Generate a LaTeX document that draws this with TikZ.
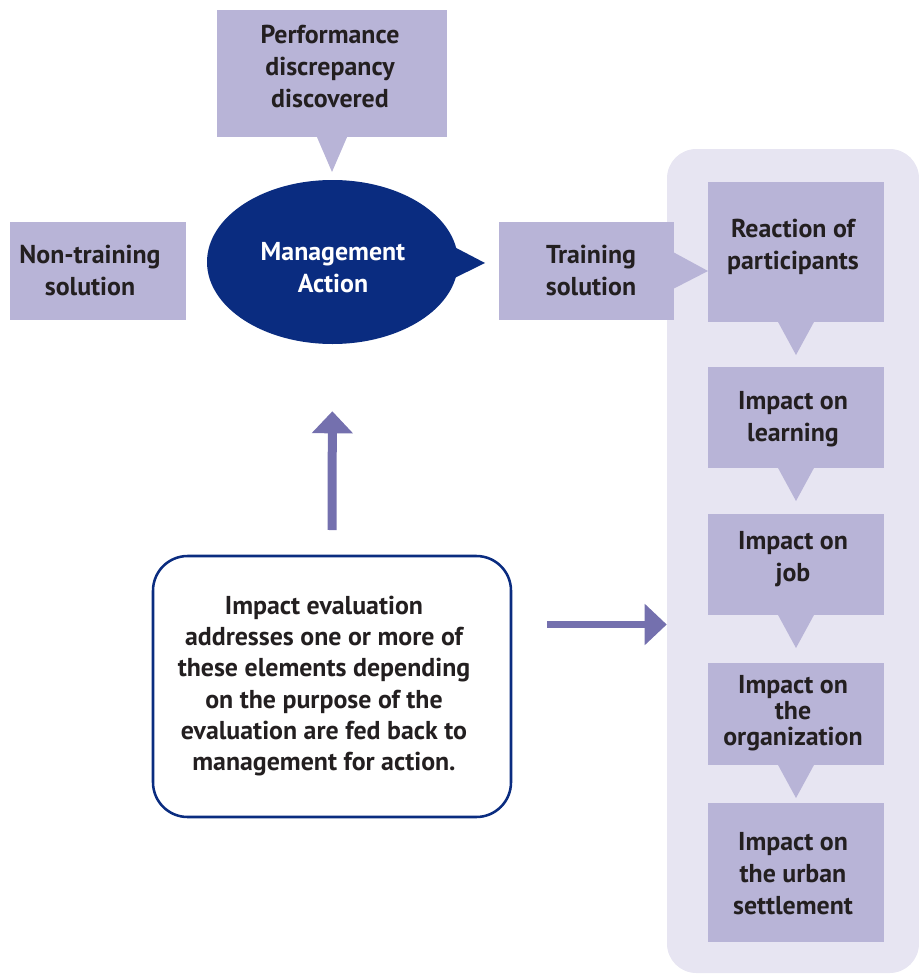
\documentclass[tikz,border=0pt]{standalone}
\usepackage{fontspec}
\setmainfont{PT Sans}
\usetikzlibrary{shapes.geometric,arrows.meta}
\definecolor{lav}{HTML}{B8B4D7}
\definecolor{panelc}{HTML}{E7E5F2}
\definecolor{navy}{HTML}{0A2C80}
\definecolor{arrowc}{HTML}{7470AE}
\definecolor{textc}{HTML}{231F20}
\tikzset{
  box/.style={rectangle, fill=lav, inner sep=0pt, outer sep=0pt},
  txt/.style={font=\bfseries\fontsize{19.4}{24}\selectfont, align=center, text=textc, inner sep=0pt},
  wtxt/.style={txt, text=white},
  bigarrow/.style={draw=arrowc, line width=6.75pt, -{Triangle[width=30pt,length=16.5pt]}},
  sidearrow/.style={draw=arrowc, line width=5.25pt, -{Triangle[width=30pt,length=16.5pt]}}
}
\begin{document}
\begin{tikzpicture}[x=0.75pt,y=-0.75pt]
\useasboundingbox (0,0) rectangle (919,974);
% background panel
\node[rectangle, fill=panelc, rounded corners=22pt, minimum width=189pt, minimum height=618pt, inner sep=0pt] (panel) at (793,561) {};
% top box
\node[box, minimum width=172.5pt, minimum height=95.25pt] (perf) at (332,73.5) {};
\fill[lav] (perf.south) ++(-15.5,-1) -- ++(15.5,36) -- ++(15.5,-36) -- cycle;
\node[txt] (perft) at (330,66.5) {Performance\\discrepancy\\discovered};
% ellipse
\node[ellipse, fill=navy, minimum width=188.25pt, minimum height=123pt, inner sep=0pt] (mgmt) at (332.5,262) {};
\fill[navy] (mgmt.center) ++(118,-17) -- ++(34.5,18) -- ++(-34.5,17) -- cycle;
\node[wtxt] (mgmtt) at (333,267.5) {Management\\Action};
% side boxes
\node[box, minimum width=132pt, minimum height=73.5pt] (nontr) at (98,271) {};
\node[txt] (nontrt) at (90,270) {Non-training\\solution};
\node[box, minimum width=131.25pt, minimum height=73.5pt] (train) at (586.5,271) {};
\fill[lav] (train.east) ++(-1,-19) -- ++(35,19) -- ++(-35,18) -- cycle;
\node[txt] (traint) at (591,270) {Training\\solution};
% right column
\node[box, minimum width=132pt, minimum height=105pt] (r1) at (796,252) {};
\node[box, minimum width=132pt, minimum height=75.75pt] (r2) at (796,417.5) {};
\node[box, minimum width=132pt, minimum height=75.75pt] (r3) at (796,564.5) {};
\node[box, minimum width=132pt, minimum height=76.5pt] (r4) at (796,714) {};
\node[box, minimum width=132pt, minimum height=104.25pt] (r5) at (796,872.5) {};
\foreach \r in {r1,r2,r3,r4}{
  \fill[lav] (\r.south) ++(-18.5,-1) -- ++(18.5,34) -- ++(18.5,-34) -- cycle;
}
\node[txt] (r1t) at (793,246.5) {Reaction of\\participants};
\node[txt] (r2t) at (793,419) {Impact on\\learning};
\node[txt] (r3t) at (793,559) {Impact on\\job};
\node[txt, font=\bfseries\fontsize{19.4}{19.5}\selectfont] (r4t) at (793,713) {Impact on\\the\\organization};
\node[txt] (r5t) at (793,874) {Impact on\\the urban\\settlement};
% evaluation box
\node[rectangle, draw=navy, line width=1.9pt, fill=white, rounded corners=26pt, minimum width=268.5pt, minimum height=195.75pt, inner sep=0pt, outer sep=0pt] (eval) at (332,686.5) {};
\node[txt, font=\bfseries\fontsize{19.4}{23.4}\selectfont] (evalt) at (324,686) {Impact evaluation\\addresses one or more of\\these elements depending\\on the purpose of the\\evaluation are fed back to\\management for action.};
% arrows
\draw[bigarrow, shorten <=19.5pt, shorten >=50.25pt] (eval.north) -- (mgmt.south);
\coordinate (ra1) at (547,624.5);
\coordinate (ra2) at (panel.west |- ra1);
\draw[sidearrow] (ra1) -- (ra2);
\end{tikzpicture}
\end{document}
